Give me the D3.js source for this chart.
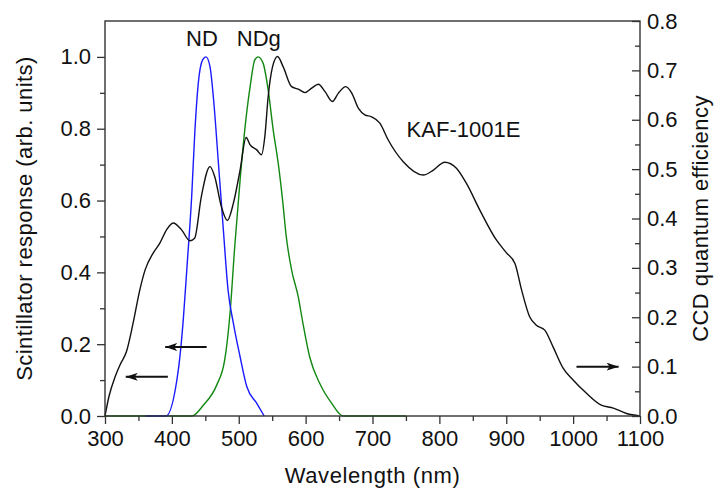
<!DOCTYPE html>
<html>
<head>
<meta charset="utf-8">
<script src="https://cdn.jsdelivr.net/npm/d3@7"></script>
<style>
  html, body { margin: 0; padding: 0; background: #fff; }
  svg { display: block; }
  text { font-family: "Liberation Sans", Arial, sans-serif; fill: #111; }
</style>
</head>
<body>
<svg id="chart" width="714" height="493"></svg>
<script>
// ---- Data ----
const ndWavelength = [360, 391, 409.6, 417, 423, 429.6, 434.5, 439.5, 446, 451, 457, 462, 469.6, 477, 484, 492, 502, 512, 527, 538];
const ndResponse   = [0, 0, 0.128, 0.267, 0.426, 0.611, 0.797, 0.927, 0.992, 1.0, 0.973, 0.889, 0.704, 0.518, 0.351, 0.258, 0.165, 0.082, 0.035, 0];

const ndgWavelength = [300, 430, 447, 467, 479, 487, 494, 502, 509, 517, 524, 529, 536.5, 544, 551.5, 559, 566, 571, 579, 589, 596, 606, 621, 639, 656, 750];
const ndgResponse   = [0, 0, 0.03, 0.086, 0.156, 0.287, 0.472, 0.657, 0.797, 0.917, 0.992, 1.0, 0.982, 0.908, 0.797, 0.704, 0.593, 0.5, 0.407, 0.332, 0.258, 0.165, 0.091, 0.035, 0, 0];

const ccdWavelength = [300, 306, 315, 323, 332, 342, 352, 360, 372, 382, 392, 402, 414.5, 427, 434, 444, 457, 464, 474, 483, 492, 502, 511, 517, 527, 534, 539, 544, 550.5, 558, 566.5, 579, 589, 599, 609, 619, 629, 640, 649, 660, 669, 679, 688.5, 698.5, 711, 723.5, 746, 776, 791, 808, 825.5, 840.5, 860.5, 885.5, 900, 913, 923, 935, 945, 957.6, 970, 985, 1000, 1020, 1042, 1060, 1080, 1100];
const ccdQE         = [0, 0.04, 0.079, 0.105, 0.13, 0.188, 0.255, 0.296, 0.33, 0.35, 0.377, 0.391, 0.377, 0.355, 0.36, 0.444, 0.505, 0.485, 0.424, 0.396, 0.431, 0.498, 0.564, 0.549, 0.539, 0.529, 0.566, 0.647, 0.707, 0.728, 0.707, 0.667, 0.662, 0.655, 0.664, 0.672, 0.657, 0.637, 0.654, 0.667, 0.654, 0.623, 0.61, 0.606, 0.593, 0.559, 0.515, 0.488, 0.498, 0.514, 0.502, 0.471, 0.417, 0.356, 0.331, 0.309, 0.255, 0.201, 0.184, 0.174, 0.14, 0.097, 0.073, 0.046, 0.022, 0.016, 0.005, 0];

const xTicks      = [300, 400, 500, 600, 700, 800, 900, 1000, 1100];
const xMinorTicks = [350, 450, 550, 650, 750, 850, 950, 1050];
const yLeftTicks      = [0, 0.2, 0.4, 0.6, 0.8, 1.0];
const yLeftMinorTicks = [0.1, 0.3, 0.5, 0.7, 0.9];
const yRightTicks      = [0, 0.1, 0.2, 0.3, 0.4, 0.5, 0.6, 0.7, 0.8];
const yRightMinorTicks = [0.05, 0.15, 0.25, 0.35, 0.45, 0.55, 0.65, 0.75];

// annotation arrows in data units
const arrowStartX = [452, 394, 1005];
const arrowEndX   = [390, 331, 1068];
const arrowY      = [0.192, 0.109, 0.1];
const arrowAxis   = ["left", "left", "right"];

const labelText = ["ND", "NDg", "KAF-1001E"];
const labelX    = [445, 530, 751];
const labelY    = [1.03, 1.03, 0.777];
const labelAnchor = ["middle", "middle", "start"];

// ---- Layout ----
const svg = d3.select("#chart");
const plot = { left: 105, right: 640, top: 21, bottom: 416 };
const FONT = 22;

const x  = d3.scaleLinear().domain([300, 1100]).range([plot.left, plot.right]);
const yL = d3.scaleLinear().domain([0, 1.1]).range([plot.bottom, plot.top]);
const yR = d3.scaleLinear().domain([0, 0.8]).range([plot.bottom, plot.top]);

const lineL = (xs, ys) => d3.line().x((d, i) => x(xs[i])).y((d, i) => yL(ys[i])).curve(d3.curveMonotoneX)(xs);
const lineR = (xs, ys) => d3.line().x((d, i) => x(xs[i])).y((d, i) => yR(ys[i])).curve(d3.curveMonotoneX)(xs);

svg.append("path").attr("d", lineL(ndgWavelength, ndgResponse))
  .attr("fill", "none").attr("stroke", "#118811").attr("stroke-width", 1.4);
svg.append("path").attr("d", lineL(ndWavelength, ndResponse))
  .attr("fill", "none").attr("stroke", "#1a1aff").attr("stroke-width", 1.4);
svg.append("path").attr("d", lineR(ccdWavelength, ccdQE))
  .attr("fill", "none").attr("stroke", "#111").attr("stroke-width", 1.4);

// Axes
const axisColor = "#333";
const gB = svg.append("g").attr("transform", `translate(0,${plot.bottom})`)
  .call(d3.axisBottom(x).tickValues(xTicks).tickSize(8).tickPadding(6).tickFormat(d3.format("d")));
const gBm = svg.append("g").attr("transform", `translate(0,${plot.bottom})`)
  .call(d3.axisBottom(x).tickValues(xMinorTicks).tickSize(5).tickFormat(""));
const gL = svg.append("g").attr("transform", `translate(${plot.left},0)`)
  .call(d3.axisLeft(yL).tickValues(yLeftTicks).tickSize(8).tickPadding(6).tickFormat(d3.format(".1f")));
const gLm = svg.append("g").attr("transform", `translate(${plot.left},0)`)
  .call(d3.axisLeft(yL).tickValues(yLeftMinorTicks).tickSize(5).tickFormat(""));
const gR = svg.append("g").attr("transform", `translate(${plot.right},0)`)
  .call(d3.axisRight(yR).tickValues(yRightTicks).tickSizeInner(-8).tickSizeOuter(0).tickFormat(d3.format(".1f")));
const gRm = svg.append("g").attr("transform", `translate(${plot.right},0)`)
  .call(d3.axisRight(yR).tickValues(yRightMinorTicks).tickSizeInner(-5).tickSizeOuter(0).tickFormat(""));

[gB, gBm, gL, gLm, gR, gRm].forEach(g => {
  g.selectAll(".domain").remove();
  g.selectAll("line").attr("stroke", axisColor).attr("stroke-width", 1.3);
  g.selectAll("text").style("font-size", FONT + "px").style("font-family", "Liberation Sans, Arial, sans-serif").attr("fill", "#111");
});
gR.selectAll("text").attr("x", 7);

// Frame
svg.append("rect").attr("x", plot.left).attr("y", plot.top)
  .attr("width", plot.right - plot.left).attr("height", plot.bottom - plot.top)
  .attr("fill", "none").attr("stroke", axisColor).attr("stroke-width", 1.4);

// Axis titles
svg.append("text").attr("x", (plot.left + plot.right) / 2).attr("y", 483)
  .attr("text-anchor", "middle").style("font-size", FONT + "px").style("letter-spacing", "0.6px").text("Wavelength (nm)");
svg.append("text").attr("transform", `translate(32,${(plot.top + plot.bottom) / 2}) rotate(-90)`)
  .attr("text-anchor", "middle").style("font-size", FONT + "px").style("letter-spacing", "0.45px").text("Scintillator response (arb. units)");
svg.append("text").attr("transform", `translate(708,${(plot.top + plot.bottom) / 2}) rotate(-90)`)
  .attr("text-anchor", "middle").style("font-size", FONT + "px").style("letter-spacing", "0.45px").text("CCD quantum efficiency");

// Curve labels
labelText.forEach((t, i) => {
  svg.append("text").attr("x", x(labelX[i])).attr("y", yL(labelY[i]))
    .attr("text-anchor", labelAnchor[i]).style("font-size", FONT + "px").text(t);
});

// Arrows
const defs = svg.append("defs");
defs.append("marker").attr("id", "ah").attr("viewBox", "0 0 12 8")
  .attr("refX", 12).attr("refY", 4).attr("markerWidth", 12).attr("markerHeight", 8)
  .attr("markerUnits", "userSpaceOnUse").attr("orient", "auto")
  .append("path").attr("d", "M0,0 L12,4 L0,8 L3,4 Z").attr("fill", "#111");

arrowStartX.forEach((sx, i) => {
  const ys = arrowAxis[i] === "left" ? yL : yR;
  svg.append("line")
    .attr("x1", x(sx)).attr("x2", x(arrowEndX[i]))
    .attr("y1", ys(arrowY[i])).attr("y2", ys(arrowY[i]))
    .attr("stroke", "#111").attr("stroke-width", 2)
    .attr("marker-end", "url(#ah)");
});
</script>
</body>
</html>
